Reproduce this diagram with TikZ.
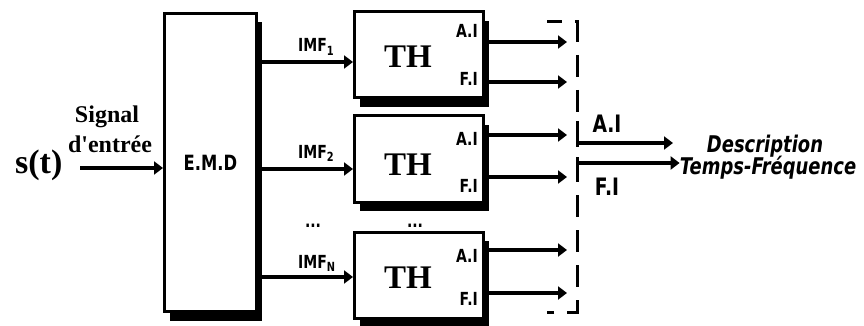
\documentclass[tikz,border=0pt]{standalone}
\usepackage{fontspec}
\setmainfont{Liberation Serif}
\newfontfamily\estreita[FakeStretch=0.78]{DejaVu Sans}
\usepackage{tikz}
\usetikzlibrary{arrows.meta,shadows}

\begin{document}
\begin{tikzpicture}[x=1pt, y=-1pt, every node/.style={inner sep=0pt},
  bloco/.style={draw, line width=3pt, fill=white,
    drop shadow={shadow xshift=5pt, shadow yshift=-9pt, opacity=1, fill=black}},
  seta/.style={line width=3.5pt, -{Triangle[length=9pt, width=13pt]}},
  tracejado/.style={line width=3pt, dash pattern=on 22pt off 13pt, dash phase=7pt},
  serifa/.style={font=\bfseries\fontsize{#1}{#1}\selectfont},
  sans/.style={font=\estreita\bfseries\fontsize{#1}{#1}\selectfont}]
\useasboundingbox (0,0) rectangle (864,326);
% entrada
\node[serifa=34, anchor=base west] (st) at (15,173) {s(t)};
\node[serifa=24, anchor=base] (sig) at (107,122) {Signal};
\node[serifa=24, anchor=base] (ent) at (110,152) {d\textquotesingle entrée};
\node[bloco, sans=21, minimum width=92pt, minimum height=298pt] (emd) at (210.5,162.5) {E.M.D};
\draw[seta] (80,168) -- (emd.west |- 0,168);
% blocos TH
\node[bloco, minimum width=129pt, minimum height=86pt] (th1) at (419,55) {};
\node[bloco, minimum width=129pt, minimum height=86pt] (th2) at (419,159) {};
\node[bloco, minimum width=129pt, minimum height=86pt] (th3) at (419,275) {};
\node[serifa=33, anchor=base] (t1) at (408,68) {TH};
\node[serifa=33, anchor=base] (t2) at (408,175) {TH};
\node[serifa=33, anchor=base] (t3) at (408,288) {TH};
\node[sans=18, anchor=base east] (a1) at (478,38) {A.I};
\node[sans=18, anchor=base east] (f1) at (478,86) {F.I};
\node[sans=18, anchor=base east] (a2) at (478,145) {A.I};
\node[sans=18, anchor=base east] (f2) at (478,192) {F.I};
\node[sans=18, anchor=base east] (a3) at (478,262) {A.I};
\node[sans=18, anchor=base east] (f3) at (478,305) {F.I};
% modos IMF
\draw[seta] (emd.east |- 0,62)  -- (th1.west |- 0,62);
\draw[seta] (emd.east |- 0,169) -- (th2.west |- 0,169);
\draw[seta] (emd.east |- 0,277) -- (th3.west |- 0,277);
\node[sans=18, anchor=base west] (m1) at (298,52) {IMF\textsubscript{1}};
\node[sans=18, anchor=base west] (m2) at (298,158) {IMF\textsubscript{2}};
\node[sans=18, anchor=base west] (mn) at (298,268) {IMF\textsubscript{N}};
\node[sans=18] (p1) at (313,226) {...};
\node[sans=18] (p2) at (415,226) {...};
% saidas A.I / F.I
\coordinate (br) at (567,0);
\draw[seta] (th1.east |- 0,42)  -- (br |- 0,42);
\draw[seta] (th1.east |- 0,82)  -- (br |- 0,82);
\draw[seta] (th2.east |- 0,135) -- (br |- 0,135);
\draw[seta] (th2.east |- 0,177) -- (br |- 0,177);
\draw[seta] (th3.east |- 0,250) -- (br |- 0,250);
\draw[seta] (th3.east |- 0,293) -- (br |- 0,293);
% agrupamento tracejado
\coordinate (ct) at (577,22);
\coordinate (cb) at (577,312);
\draw[tracejado] (547,22) -- (ct) -- (cb) -- (547,312);
\draw[line width=3pt] (577,121) -- (577,144);
\draw[line width=3pt] (577,157) -- (577,171);
% descricao
\node[sans=23, anchor=base, font=\estreita\bfseries\itshape\fontsize{23}{23}\selectfont] (ds) at (765,152) {Description};
\node[sans=23, anchor=base, font=\estreita\bfseries\itshape\fontsize{23}{23}\selectfont] (tf) at (768,174) {Temps-Fréquence};
\coordinate (fa) at (673,143);
\draw[seta] (cb |- 0,143) -- (fa);
\draw[seta] (cb |- 0,163) -- (tf.west |- 0,163);
\node[sans=24, anchor=base] (ai) at (607,132) {A.I};
\node[sans=24, anchor=base] (fi) at (607,195) {F.I};
\end{tikzpicture}
\end{document}
